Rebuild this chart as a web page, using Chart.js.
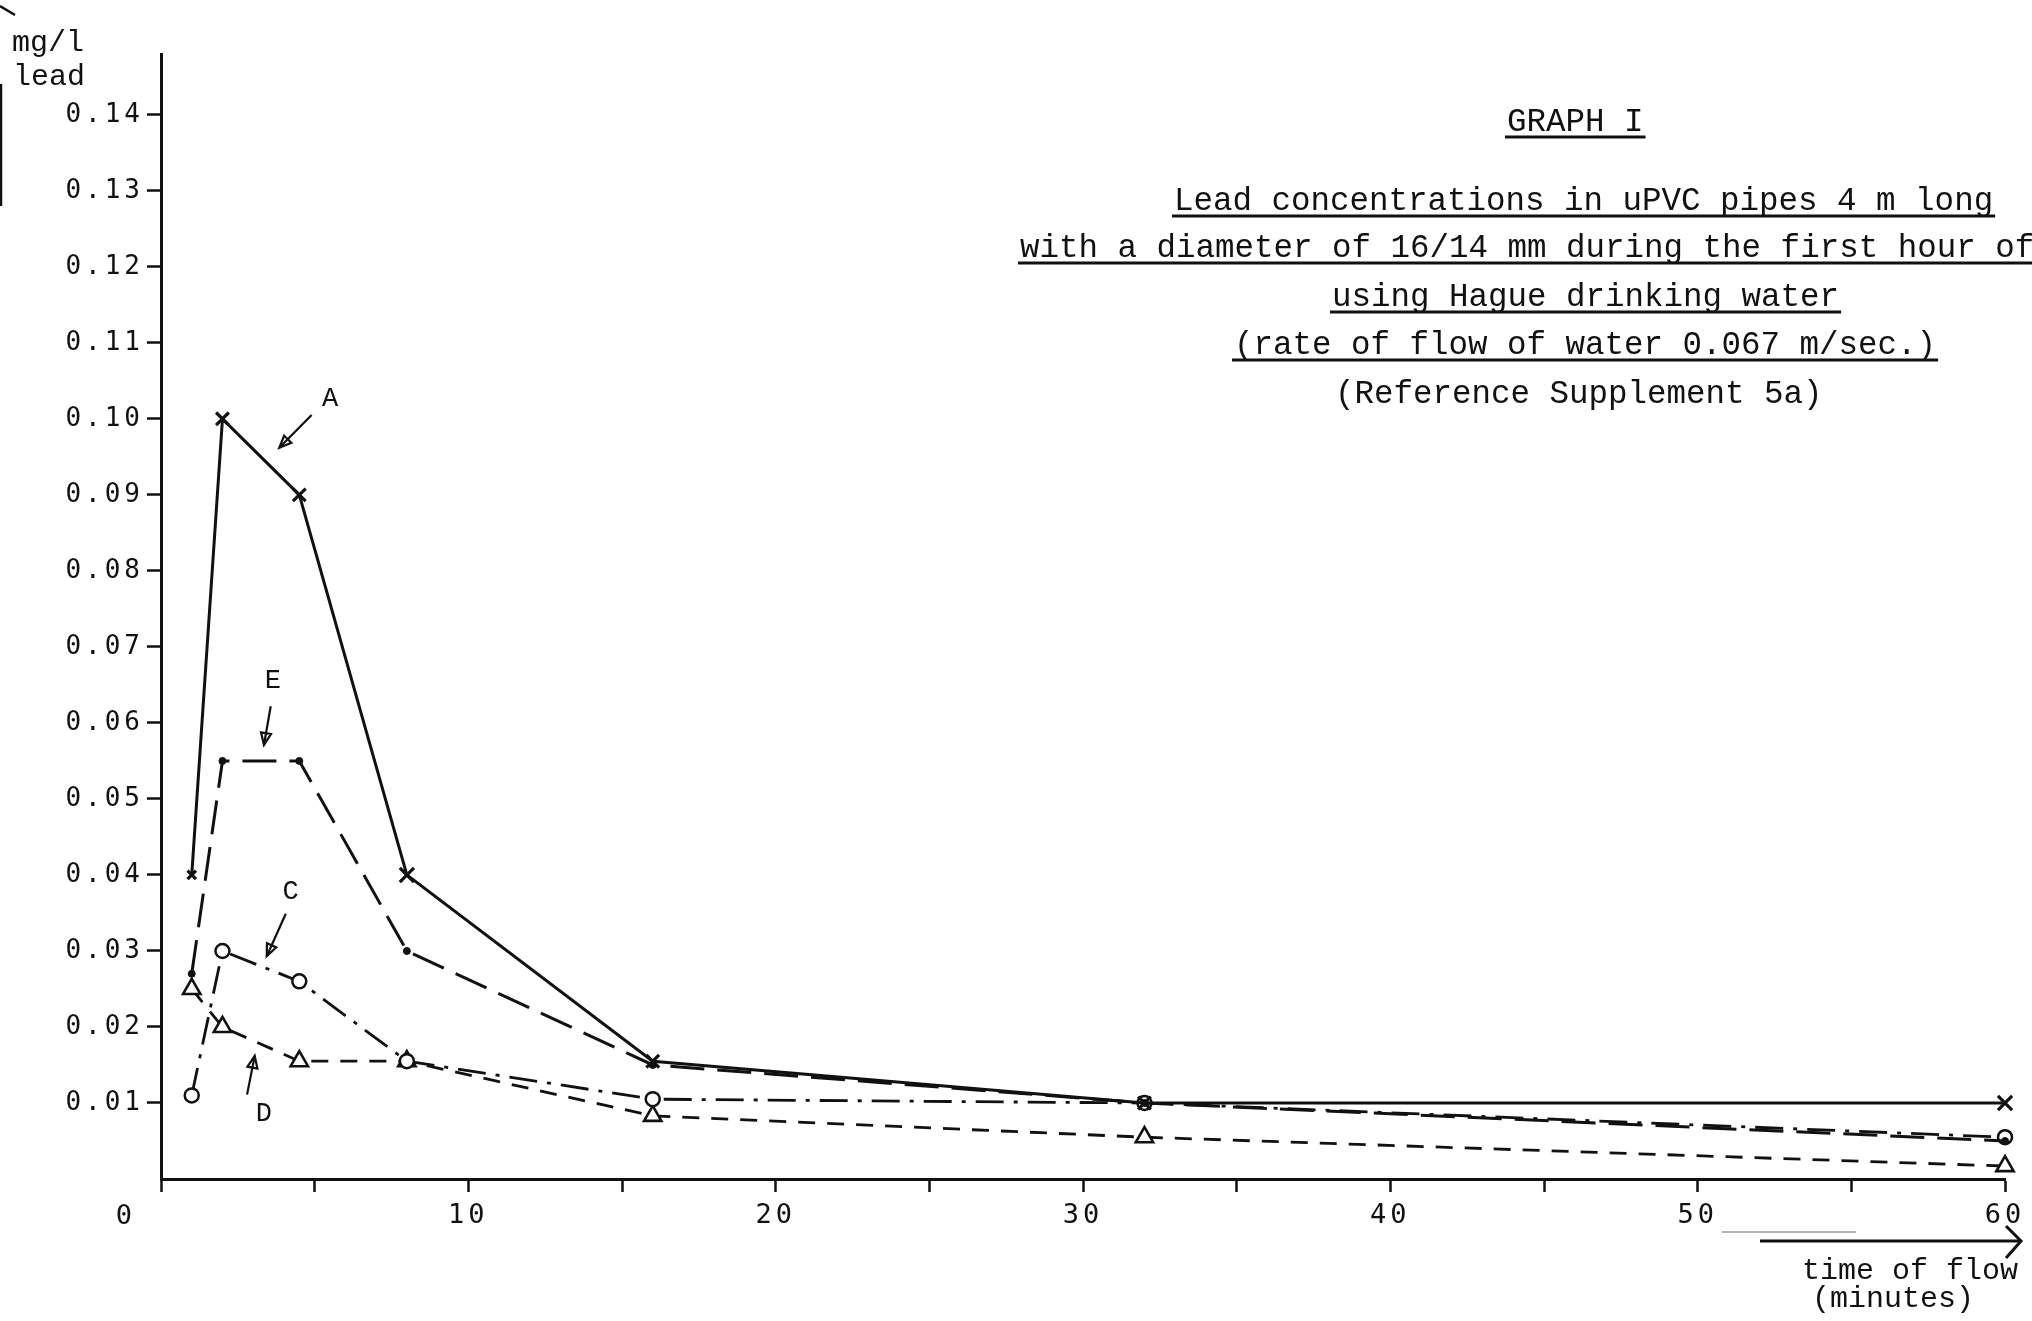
<!DOCTYPE html>
<html>
<head>
<meta charset="utf-8">
<script src="https://cdn.jsdelivr.net/npm/chart.js@4.4.1/dist/chart.umd.min.js"></script>
<style>
  html, body { margin: 0; padding: 0; background: #fff; }
  #wrap { width: 2032px; height: 1321px; }
</style>
</head>
<body>
<div id="wrap"><canvas id="chart" width="2032" height="1321"></canvas></div>
<script>
const times = [1, 2, 4.5, 8, 16, 32, 60];
const seriesA = [0.040, 0.100, 0.090, 0.040, 0.0155, 0.010, 0.010];
const seriesE = [0.027, 0.055, 0.055, 0.030, 0.015, 0.010, 0.005];
const seriesC = [0.011, 0.030, 0.026, 0.0155, 0.0105, 0.010, 0.0055];
const seriesD = [0.025, 0.020, 0.0155, 0.0155, 0.0083, 0.0055, 0.0017];

const xTicks = [0, 5, 10, 15, 20, 25, 30, 35, 40, 45, 50, 55, 60];
const xLabelled = [10, 20, 30, 40, 50, 60];
const yTicks = [0.01, 0.02, 0.03, 0.04, 0.05, 0.06, 0.07, 0.08, 0.09, 0.10, 0.11, 0.12, 0.13, 0.14];

const titleLines = [
  "GRAPH I",
  "Lead concentrations in uPVC pipes 4 m long",
  "with a diameter of 16/14 mm during the first hour of",
  "using Hague drinking water",
  "(rate of flow of water 0.067 m/sec.)",
  "(Reference Supplement 5a)"
];

const INK = "#111";
const MONO = "'Liberation Mono', 'DejaVu Sans Mono', monospace";
const GOTHIC = "'DejaVu Sans Mono', 'Liberation Mono', monospace";

const pts = vals => times.map((t, i) => ({ x: t, y: vals[i] }));

// curve labels with their pointer arrows, in data units
const notes = [
  { text: "A", at: [5.5, 0.1026], from: [4.9, 0.1005], to: [3.85, 0.0962] },
  { text: "E", at: [3.64, 0.0655], from: [3.57, 0.0622], to: [3.35, 0.0571] },
  { text: "C", at: [4.22, 0.0378], from: [4.06, 0.0349], to: [3.44, 0.0293] },
  { text: "D", at: [3.35, 0.0086], from: [2.80, 0.0111], to: [3.05, 0.0162] }
];

function arrow(ctx, x1, y1, x2, y2, size) {
  const a = Math.atan2(y2 - y1, x2 - x1);
  ctx.beginPath();
  ctx.moveTo(x1, y1);
  ctx.lineTo(x2, y2);
  ctx.stroke();
  if (!size) return;
  ctx.beginPath();
  ctx.moveTo(x2, y2);
  ctx.lineTo(x2 - size * Math.cos(a - 0.4), y2 - size * Math.sin(a - 0.4));
  ctx.lineTo(x2 - size * Math.cos(a + 0.4), y2 - size * Math.sin(a + 0.4));
  ctx.closePath();
  ctx.stroke();
}

const paper = {
  id: "paper",
  beforeDraw(chart) {
    // typewriter spacing for the tick numbers
    chart.ctx.letterSpacing = "4px";
  },
  afterDraw(chart) {
    const ctx = chart.ctx;
    const xs = chart.scales.x, ys = chart.scales.y;
    ctx.save();
    ctx.letterSpacing = "0px";
    ctx.fillStyle = INK;
    ctx.strokeStyle = INK;
    ctx.textBaseline = "middle";

    // title block
    ctx.font = "32.5px " + MONO;
    ctx.textAlign = "left";
    const lefts = [1507, 1174, 1020, 1332, 1234, 1335];
    const mids = [122, 201, 248, 297, 345, 394];
    titleLines.forEach((t, i) => {
      ctx.fillText(t, lefts[i], mids[i]);
      if (i < 5) {
        const w = ctx.measureText(t).width;
        ctx.lineWidth = 3;
        ctx.beginPath();
        ctx.moveTo(lefts[i] - 2, mids[i] + 15);
        ctx.lineTo(lefts[i] + w + 2, mids[i] + 15);
        ctx.stroke();
      }
    });

    // axis titles
    ctx.font = "30px " + MONO;
    ctx.fillText("mg/l", 12, 43);
    ctx.fillText("lead", 13, 77);
    ctx.textAlign = "center";
    ctx.fillText("time of flow", 1910, 1271);
    ctx.fillText("(minutes)", 1893, 1299);
    ctx.lineWidth = 3;
    arrow(ctx, 1760, 1241, 2020, 1241, 0);
    ctx.beginPath();
    ctx.moveTo(2006, 1226); ctx.lineTo(2021, 1241); ctx.lineTo(2006, 1258);
    ctx.stroke();
    ctx.strokeStyle = "#9a9a9a";
    ctx.lineWidth = 1.5;
    ctx.beginPath(); ctx.moveTo(1722, 1232); ctx.lineTo(1856, 1232); ctx.stroke();
    ctx.strokeStyle = INK;

    // scan remains of the y arrow at top left
    ctx.lineWidth = 2.5;
    ctx.beginPath(); ctx.moveTo(0, 6); ctx.lineTo(15, 15); ctx.stroke();
    ctx.beginPath(); ctx.moveTo(1, 84); ctx.lineTo(1, 206); ctx.stroke();

    // zero of the time axis sits left of the origin
    ctx.font = "27px " + GOTHIC;
    ctx.fillText("0", xs.getPixelForValue(0) - 37, 1217);

    // curve letters
    ctx.font = "27px " + MONO;
    notes.forEach(n => {
      ctx.fillText(n.text, xs.getPixelForValue(n.at[0]), ys.getPixelForValue(n.at[1]));
      ctx.lineWidth = 2.2;
      arrow(ctx,
        xs.getPixelForValue(n.from[0]), ys.getPixelForValue(n.from[1]),
        xs.getPixelForValue(n.to[0]), ys.getPixelForValue(n.to[1]), 13);
    });
    ctx.restore();
  }
};

new Chart(document.getElementById("chart"), {
  type: "line",
  data: {
    datasets: [
      { label: "A", data: pts(seriesA), borderColor: INK, borderWidth: 3,
        pointStyle: "crossRot", pointRadius: [6, 9, 9, 10, 9, 9, 10], pointBorderWidth: 3.2,
        pointBorderColor: INK, pointBackgroundColor: INK },
      { label: "E", data: pts(seriesE), borderColor: INK, borderWidth: 3, borderDash: [34, 13],
        pointStyle: "circle", pointRadius: 3.5, pointBorderWidth: 1,
        pointBorderColor: INK, pointBackgroundColor: INK },
      { label: "C", data: pts(seriesC), borderColor: INK, borderWidth: 2.8, borderDash: [28, 10, 4, 10],
        pointStyle: "circle", pointRadius: 7, pointBorderWidth: 2.5,
        pointBorderColor: INK, pointBackgroundColor: "#fff" },
      { label: "D", data: pts(seriesD), borderColor: INK, borderWidth: 2.8, borderDash: [17, 12],
        pointStyle: "triangle", pointRadius: 10, pointBorderWidth: 2.6,
        pointBorderColor: INK, pointBackgroundColor: "#fff" }
    ].map(d => Object.assign(d, { tension: 0, clip: false, fill: false }))
  },
  options: {
    responsive: false,
    devicePixelRatio: 1,
    animation: false,
    layout: { padding: { top: 54, right: 27, bottom: 0, left: 0 } },
    plugins: { legend: { display: false }, tooltip: { enabled: false } },
    scales: {
      x: {
        type: "linear", min: 0, max: 60,
        afterBuildTicks: s => { s.ticks = xTicks.map(v => ({ value: v })); },
        afterFit: s => { s.height = 142; },
        grid: { drawOnChartArea: false, drawTicks: true, tickLength: 13, tickWidth: 2.5, tickColor: INK },
        border: { display: true, color: INK, width: 3 },
        ticks: {
          color: INK, padding: 8, maxRotation: 0, autoSkip: false,
          font: { family: GOTHIC, size: 27 },
          callback: v => xLabelled.includes(v) ? String(v) : ""
        }
      },
      y: {
        type: "linear", min: 0, max: 0.148,
        afterBuildTicks: s => { s.ticks = yTicks.map(v => ({ value: v })); },
        afterFit: s => { s.width = 161; },
        grid: { drawOnChartArea: false, drawTicks: true, tickLength: 14, tickWidth: 2.5, tickColor: INK },
        border: { display: true, color: INK, width: 3 },
        ticks: {
          color: INK, padding: 3, autoSkip: false,
          font: { family: GOTHIC, size: 26 },
          callback: v => v.toFixed(2)
        }
      }
    }
  },
  plugins: [paper]
});
</script>
</body>
</html>
